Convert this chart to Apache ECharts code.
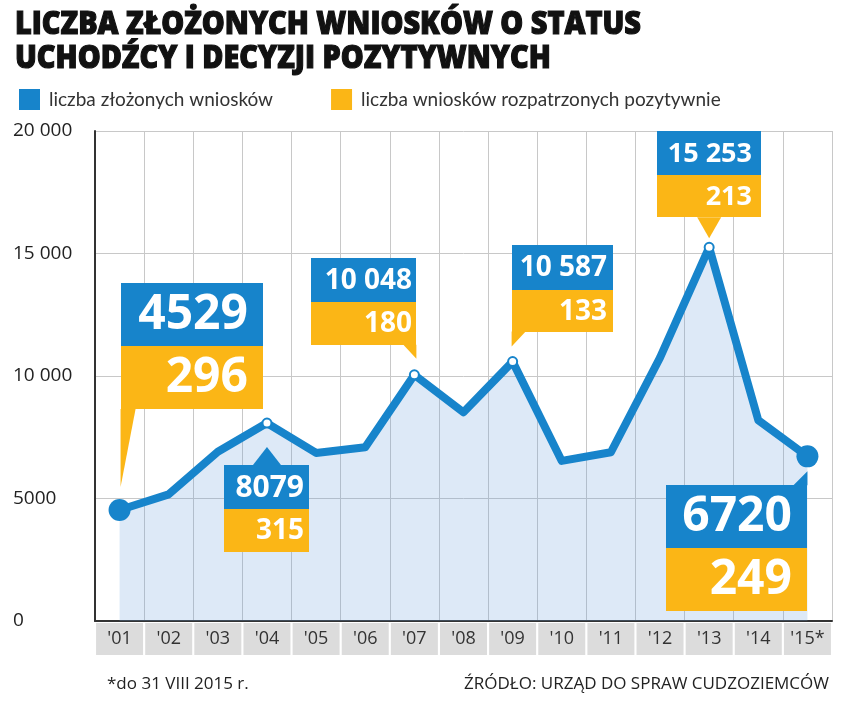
<!DOCTYPE html>
<html>
<head>
<meta charset="utf-8">
<script src="https://cdn.jsdelivr.net/npm/echarts@6/dist/echarts.min.js"></script>
<style>html,body{margin:0;padding:0;background:#fff}#c{width:852px;height:703px}</style>
</head>
<body>
<div id="c"></div>
<script>
// ---- data ----
var years = ["'01","'02","'03","'04","'05","'06","'07","'08","'09","'10","'11","'12","'13","'14","'15*"];
var applications = [4529, 5170, 6909, 8079, 6860, 7093, 10048, 8517, 10587, 6534, 6887, 10753, 15253, 8193, 6720];
var positive = [296, null, null, 315, null, null, 180, null, 133, null, null, null, 213, null, 249];
var yTicks = [0, 5000, 10000, 15000, 20000];
var titleLines = ['LICZBA ZŁOŻONYCH WNIOSKÓW O STATUS', 'UCHODŹCY I DECYZJI POZYTYWNYCH'];
var seriesNames = ['liczba złożonych wniosków', 'liczba wniosków rozpatrzonych pozytywnie'];
var footnote = '*do 31 VIII 2015 r.';
var source = 'ŹRÓDŁO: URZĄD DO SPRAW CUDZOZIEMCÓW';

// ---- style ----
var BLUE = '#1784cb', YELLOW = '#fbb616';
var bigDots = [0, 14];

function fmt(v){
  var s = String(v);
  if (v >= 10000) s = s.replace(/\B(?=(\d{3})+(?!\d))/g, ' ');
  return s;
}

var lineData = applications.map(function(v, i){
  var item = {value: v};
  if (bigDots.indexOf(i) >= 0) {
    item.symbol = 'circle'; item.symbolSize = 22;
    item.itemStyle = {color: BLUE, borderWidth: 0};
  } else if (positive[i] != null) {
    item.symbol = 'circle'; item.symbolSize = 9;
    item.itemStyle = {color: '#fff', borderColor: BLUE, borderWidth: 2};
  } else {
    item.symbol = 'none';
  }
  return item;
});

var chart = echarts.init(document.getElementById('c'), null, {renderer: 'canvas'});

var ctx = document.createElement('canvas').getContext('2d');
var titleFont = '800 32px "Open Sans", "Noto Sans", sans-serif';
ctx.font = titleFont;
var w1 = ctx.measureText(titleLines[0]).width;
var tScale = 626 / w1;

chart.setOption({
  animation: false,
  backgroundColor: '#fff',
  grid: {left: 95, right: 20, top: 131, bottom: 82, containLabel: false},
  legend: {
    left: 14, top: 84, itemWidth: 21, itemHeight: 21, itemGap: 58, icon: 'rect',
    selectedMode: false,
    textStyle: {fontFamily: 'Lato, "Open Sans", sans-serif', fontSize: 19, color: '#333', padding: [0,0,0,4]},
    data: seriesNames
  },
  xAxis: {
    type: 'category', data: years, boundaryGap: true,
    axisLine: {show: true, lineStyle: {color: '#333', width: 2}},
    axisTick: {show: false},
    splitLine: {show: true, interval: 0, lineStyle: {color: '#c8c8c8', width: 1}},
    axisLabel: {
      interval: 0, margin: 2, color: '#333', fontFamily: '"Open Sans", sans-serif', fontSize: 18,
      backgroundColor: '#dcdcdc', width: 47, height: 32, lineHeight: 32, align: 'center', padding: 0
    }
  },
  yAxis: {
    type: 'value', min: 0, max: 20000, interval: 5000,
    axisLine: {show: true, lineStyle: {color: '#333', width: 2}},
    axisTick: {show: false},
    splitLine: {show: true, lineStyle: {color: '#c8c8c8', width: 1}},
    axisLabel: {
      margin: 82, align: 'left', color: '#222', fontFamily: '"Open Sans", sans-serif', fontSize: 19,
      formatter: function(v){ return yTicks.indexOf(v) >= 0 ? fmt(v) : ''; }
    }
  },
  series: [
    {
      name: seriesNames[0], type: 'line', data: lineData, color: BLUE,
      lineStyle: {color: BLUE, width: 8, join: 'round'},
      areaStyle: {color: 'rgba(110,160,220,0.33)'},
      z: 3
    },
    {
      name: seriesNames[1], type: 'line', data: positive, color: YELLOW,
      showSymbol: false, symbol: 'none', lineStyle: {opacity: 0, width: 0}, silent: true
    }
  ]
});

// callout layout (relative to the data point pixel)
var layout = {
  0:  {dx: 1,   dy: -227, w: 142, hb: 63, hy: 63, fb: 48, fy: 48, pad: 15, ptr: 'y', pts: [[1,-101],[16,-101],[1,-23]]},
  3:  {dx: -43, dy: 42,   w: 85,  hb: 44, hy: 43, fb: 30, fy: 28, pad: 5,  ptr: 'b', pts: [[-14,42],[14,42],[0,24]]},
  6:  {dx: -103,dy: -117, w: 105, hb: 44, hy: 43, fb: 28, fy: 28, pad: 4,  ptr: 'y', pts: [[-11,-30],[2,-30],[2,-16]]},
  8:  {dx: -1,  dy: -117, w: 101, hb: 45, hy: 42, fb: 28, fy: 28, pad: 6,  ptr: 'y', pts: [[-1,-30],[13,-30],[-1,-15]]},
  12: {dx: -52, dy: -116, w: 104, hb: 44, hy: 42, fb: 27, fy: 27, pad: 9,  ptr: 'y', pts: [[-12,-30],[12,-30],[0,-9]]},
  14: {dx: -141,dy: 29,   w: 141, hb: 63, hy: 63, fb: 48, fy: 48, pad: 15, ptr: 'b', pts: [[-14,29],[0,29],[0,15]]}
};

var g = [];
titleLines.forEach(function(t, i){
  g.push({type: 'text', x: 15, y: 9 + i * 34, scaleX: tScale, z: 10,
    style: {text: t, font: titleFont, fill: '#111', stroke: '#111', lineWidth: 1.2, textVerticalAlign: 'top'}});
});
g.push({type: 'text', x: 107, y: 684, z: 10,
  style: {text: footnote, font: '17px "Open Sans", sans-serif', fill: '#222', textVerticalAlign: 'middle'}});
g.push({type: 'text', x: 829, y: 684, z: 10,
  style: {text: source, font: '17px "Open Sans", sans-serif', fill: '#222', textAlign: 'right', textVerticalAlign: 'middle'}});

Object.keys(layout).forEach(function(k){
  var i = +k, L = layout[k];
  var p = chart.convertToPixel({gridIndex: 0}, [i, applications[i]]);
  var x0 = Math.round(p[0] + L.dx), y0 = Math.round(p[1] + L.dy);
  g.push({type: 'polygon', z: 20, shape: {points: L.pts.map(function(q){ return [p[0] + q[0], p[1] + q[1]]; })},
    style: {fill: L.ptr === 'b' ? BLUE : YELLOW}});
  g.push({type: 'rect', z: 21, shape: {x: x0, y: y0, width: L.w, height: L.hb}, style: {fill: BLUE}});
  g.push({type: 'rect', z: 21, shape: {x: x0, y: y0 + L.hb, width: L.w, height: L.hy}, style: {fill: YELLOW}});
  g.push({type: 'text', z: 22, x: x0 + L.w - L.pad, y: y0 + L.hb / 2 + 1,
    style: {text: fmt(applications[i]), font: 'bold ' + L.fb + 'px "Open Sans", sans-serif', fill: '#fff', textAlign: 'right', textVerticalAlign: 'middle'}});
  g.push({type: 'text', z: 22, x: x0 + L.w - L.pad, y: y0 + L.hb + L.hy / 2 + 1,
    style: {text: fmt(positive[i]), font: 'bold ' + L.fy + 'px "Open Sans", sans-serif', fill: '#fff', textAlign: 'right', textVerticalAlign: 'middle'}});
});

chart.setOption({graphic: g});
</script>
</body>
</html>
